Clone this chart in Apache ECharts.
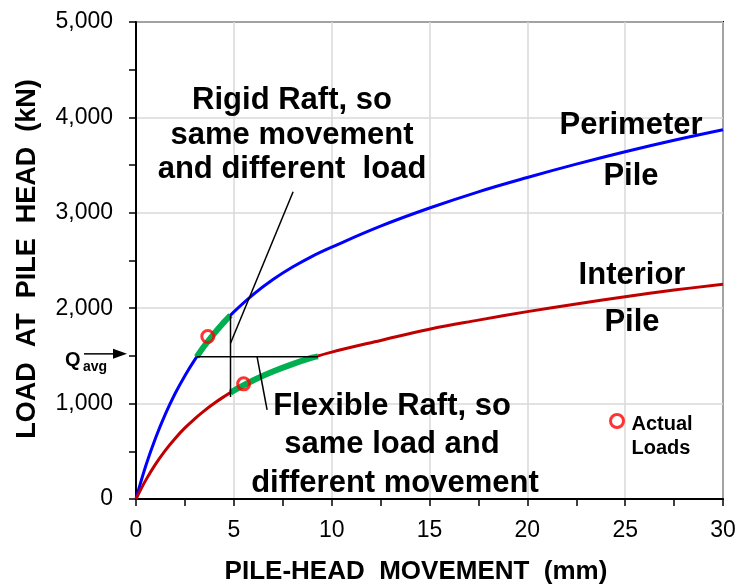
<!DOCTYPE html>
<html><head><meta charset="utf-8">
<script src="https://cdn.jsdelivr.net/npm/echarts@6/dist/echarts.min.js"></script>
<style>html,body{margin:0;padding:0;background:#fff}#c{width:740px;height:584px}</style>
</head><body><div id="c"></div>
<script>
const FONT = '"Liberation Sans", Arial, Helvetica, sans-serif';

// axis ticks
const xTicks = [0, 5, 10, 15, 20, 25, 30];
const xTickLabels = ['0', '5', '10', '15', '20', '25', '30'];
const yTicks = [0, 1000, 2000, 3000, 4000, 5000];
const yTickLabels = ['0', '1,000', '2,000', '3,000', '4,000', '5,000'];

// load-movement curves (mm, kN)
const curveX = [0, 0.5, 1, 1.5, 2, 2.5, 3, 3.5, 4, 4.5, 5, 6, 7, 8, 9, 10, 12.5, 15, 17.5, 20, 22.5, 25, 27.5, 30];
const perimeterY = [0, 348, 640, 890, 1106, 1293, 1459, 1606, 1737, 1854, 1961, 2145, 2300, 2431, 2544, 2640, 2860, 3050, 3220, 3370, 3510, 3640, 3760, 3870];
const interiorY = [0, 198, 366, 510, 635, 745, 841, 927, 1004, 1073, 1136, 1245, 1336, 1414, 1481, 1540, 1662, 1780, 1875, 1964, 2045, 2121, 2190, 2251];

// highlighted (green) ranges
const rigidX = [3.1, 3.5, 4, 4.5, 4.83];
const rigidY = [1490, 1606, 1737, 1854, 1926];
const flexX = [4.83, 5, 6, 7, 8, 9, 9.3];
const flexY = [1115, 1136, 1245, 1336, 1414, 1481, 1495];

// actual loads
const actualX = [3.67, 5.5];
const actualY = [1703, 1207];

// annotation lines
const qavg = 1490;
const qavgLineX = [3.1, 9.3];
const sameMoveX = 4.83;
const sameMoveY = [1070, 1926];
const rigidLeaderX = [8.03, 4.83];
const rigidLeaderY = [3221, 1633];
const flexLeaderX = [6.19, 6.70];
const flexLeaderY = [1490, 935];

const zip = (xs, ys) => xs.map((x, i) => [x, ys[i]]);

const chart = echarts.init(document.getElementById('c'));

const axisCommon = {
  type: 'value',
  axisLine: { show: true, onZero: false, lineStyle: { color: '#000', width: 2 } },
  axisTick: { show: true, inside: false, length: 7, lineStyle: { color: '#000', width: 1.5 } },
  minorTick: { show: true, splitNumber: 2, length: 7, lineStyle: { color: '#000', width: 1.5 } },
  splitLine: { show: true, lineStyle: { color: '#d9d9d9', width: 1.5 } }
};

const blackLine = (data) => ({
  type: 'line', data, symbol: 'none', silent: true, z: 4,
  lineStyle: { color: '#000', width: 1.5 }, itemStyle: { color: '#000' }
});

const bold = (size) => 'bold ' + size + 'px ' + FONT;
const txt = (text, x, y, size, align) => ({
  type: 'text', x, y, silent: true,
  style: { text, font: bold(size), fill: '#000', align: align || 'center', verticalAlign: 'middle' }
});

chart.setOption({
  animation: false,
  textStyle: { fontFamily: FONT },
  grid: { left: 136, right: 17, top: 22, bottom: 85, show: true, borderColor: '#000', borderWidth: 2 },
  xAxis: Object.assign({}, axisCommon, {
    min: 0, max: 30, interval: 5,
    axisLabel: { color: '#000', fontSize: 23, margin: 20, fontFamily: FONT,
      formatter: v => xTickLabels[xTicks.indexOf(v)] }
  }),
  yAxis: Object.assign({}, axisCommon, {
    min: 0, max: 5000, interval: 1000,
    axisLabel: { color: '#000', fontSize: 23, margin: 23, fontFamily: FONT,
      formatter: v => yTickLabels[yTicks.indexOf(v)] }
  }),
  legend: {
    data: ['Actual Loads'], selectedMode: false,
    left: 609, top: 392, padding: 0, itemWidth: 13, itemHeight: 13,
    itemStyle: { color: 'rgba(255,255,255,0)', borderColor: '#ff0000', borderWidth: 3 },
    formatter: () => '{a| }\n{b|Actual}\n{b|Loads}',
    textStyle: {
      color: '#000', fontFamily: FONT,
      rich: {
        a: { fontSize: 10, lineHeight: 30 },
        b: { fontSize: 20, fontWeight: 'bold', color: '#000', lineHeight: 24, fontFamily: FONT, padding: [0, 0, 0, 3] }
      }
    }
  },
  series: [
    { name: 'Perimeter Pile', type: 'line', data: zip(curveX, perimeterY), symbol: 'none', smooth: 0.4, z: 2,
      lineStyle: { color: '#0000ff', width: 3 }, itemStyle: { color: '#0000ff' } },
    { name: 'Interior Pile', type: 'line', data: zip(curveX, interiorY), symbol: 'none', smooth: 0.4, z: 2,
      lineStyle: { color: '#c00000', width: 3 }, itemStyle: { color: '#c00000' } },
    { name: 'Rigid range', type: 'line', data: zip(rigidX, rigidY), symbol: 'none', smooth: 0.4, z: 3,
      lineStyle: { color: '#00b050', width: 6 }, itemStyle: { color: '#00b050' } },
    { name: 'Flexible range', type: 'line', data: zip(flexX, flexY), symbol: 'none', smooth: 0.4, z: 3,
      lineStyle: { color: '#00b050', width: 6 }, itemStyle: { color: '#00b050' } },
    blackLine(qavgLineX.map(x => [x, qavg])),
    blackLine(sameMoveY.map(y => [sameMoveX, y])),
    blackLine(zip(rigidLeaderX, rigidLeaderY)),
    blackLine(zip(flexLeaderX, flexLeaderY)),
    { name: 'Actual Loads', type: 'scatter', data: zip(actualX, actualY), symbol: 'circle', symbolSize: 12, z: 5,
      itemStyle: { color: 'rgba(255,255,255,0)', borderColor: '#ff0000', borderWidth: 3 } }
  ]
});

const pQ = chart.convertToPixel({ gridIndex: 0 }, [0, qavg]);
const ay = pQ[1] - 3;

chart.setOption({
  graphic: [
    { type: 'text', x: 28, y: 259, rotation: Math.PI / 2, silent: true,
      style: { text: 'LOAD  AT  PILE  HEAD  (kN)', font: bold(27), fill: '#000', align: 'center', verticalAlign: 'middle' } },
    txt('PILE-HEAD  MOVEMENT  (mm)', 416, 572, 26),
    txt('Rigid Raft, so', 292, 100, 31),
    txt('same movement', 292, 135, 31),
    txt('and different  load', 292, 169, 31),
    txt('Flexible Raft, so', 392, 406, 31),
    txt('same load and', 392, 444, 31),
    txt('different movement', 395, 483, 31),
    txt('Perimeter', 631, 125, 31),
    txt('Pile', 631, 176, 31),
    txt('Interior', 632, 275, 31),
    txt('Pile', 632, 322, 31),
    txt('Q', 65, ay + 7, 20, 'left'),
    txt('avg', 83, ay + 13, 14, 'left'),
    { type: 'line', silent: true, shape: { x1: 84, y1: ay, x2: 115, y2: ay }, style: { stroke: '#000', lineWidth: 1.5 } },
    { type: 'polygon', silent: true, shape: { points: [[113, ay - 5], [127, ay], [113, ay + 5]] }, style: { fill: '#000' } }
  ]
});
</script>
</body></html>
